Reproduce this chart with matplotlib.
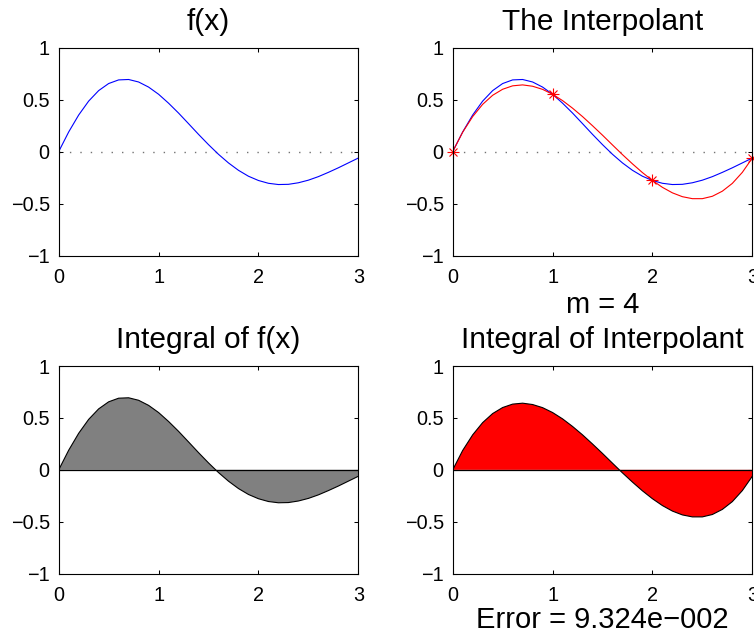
import numpy as np
import matplotlib
matplotlib.use('Agg')
import matplotlib.pyplot as plt

plt.rcParams['font.family'] = ['Liberation Sans', 'DejaVu Sans']
plt.rcParams['lines.scale_dashes'] = False

# sample grid and values
x_vals = np.round(np.arange(0, 3.01, 0.1), 1)
f_vals = [0.000, 0.189, 0.352, 0.486, 0.587, 0.655, 0.690, 0.694, 0.670, 0.621,
          0.552, 0.466, 0.371, 0.269, 0.166, 0.067, -0.026, -0.109, -0.180, -0.237,
          -0.278, -0.305, -0.317, -0.315, -0.300, -0.275, -0.241, -0.200, -0.156,
          -0.109, -0.062]
p_vals = [0.000, 0.187, 0.337, 0.455, 0.542, 0.600, 0.633, 0.642, 0.629, 0.599,
          0.552, 0.491, 0.418, 0.337, 0.249, 0.158, 0.064, -0.029, -0.118, -0.202,
          -0.278, -0.344, -0.397, -0.434, -0.453, -0.453, -0.430, -0.381, -0.306,
          -0.200, -0.062]
node_x = [0, 1, 2, 3]
node_y = [0.000, 0.552, -0.278, -0.062]

titles = ['f(x)', 'The Interpolant', 'Integral of f(x)', 'Integral of Interpolant']
m_label = 'm = 4'
err_label = 'Error = 9.324e\u2212002'
x_ticks = [0, 1, 2, 3]
y_ticks = [-1, -0.5, 0, 0.5, 1]
y_ticklabels = ['\u22121', '\u22120.5', '0', '0.5', '1']

fig = plt.figure(figsize=(7.54, 6.38), dpi=100)
W, H = 754, 638
def axes_px(left, top, right, bottom):
    return fig.add_axes([left / W, 1 - bottom / H, (right - left) / W, (bottom - top) / H])

ax1 = axes_px(58.7, 47.7, 358.3, 255.5)
ax2 = axes_px(452.7, 47.7, 752.3, 255.5)
ax3 = axes_px(58.7, 366.0, 358.3, 573.7)
ax4 = axes_px(452.7, 366.0, 752.3, 573.7)
axes = [ax1, ax2, ax3, ax4]

for ax, t in zip(axes, titles):
    ax.set_xlim(0, 3)
    ax.set_ylim(-1, 1)
    ax.set_xticks(x_ticks)
    ax.set_xticklabels([str(v) for v in x_ticks])
    ax.set_yticks(y_ticks)
    ax.set_yticklabels(y_ticklabels)
    ax.tick_params(direction='in', top=True, right=True, length=3, width=0.75,
                   labelsize=14.3)
    ax.tick_params(axis='x', pad=9)
    ax.tick_params(axis='y', pad=6.5)
    for s in ax.spines.values():
        s.set_linewidth(0.8)
    ax.set_title(t, fontsize=21.5, pad=13)

# f(x)
ax1.axhline(0, color='0.45', lw=1.0, linestyle=(0, (1.0, 6.5)), zorder=1)
ax1.plot(x_vals, f_vals, color='b', lw=0.8)

# interpolant
ax2.axhline(0, color='0.45', lw=1.0, linestyle=(0, (1.0, 6.5)), zorder=1)
ax2.plot(x_vals, f_vals, color='b', lw=0.8)
ax2.plot(x_vals, p_vals, color='r', lw=0.8)
ax2.plot(node_x, node_y, '+', color='r', ms=9, mew=0.8, clip_on=False)
ax2.plot(node_x, node_y, 'x', color='r', ms=6.4, mew=0.8, clip_on=False)
ax2.text(0.5, -0.276, m_label, transform=ax2.transAxes, ha='center',
         va='baseline', fontsize=21)

# integrals
ax3.fill_between(x_vals, f_vals, 0, facecolor=(0.5, 0.5, 0.5), edgecolor='none')
ax3.plot(x_vals, f_vals, color='k', lw=0.8)
ax3.axhline(0, color='k', lw=0.9)

ax4.fill_between(x_vals, p_vals, 0, facecolor='r', edgecolor='none')
ax4.plot(x_vals, p_vals, color='k', lw=0.8)
ax4.axhline(0, color='k', lw=0.9)
ax4.text(0.5, -0.262, err_label, transform=ax4.transAxes, ha='center',
         va='baseline', fontsize=21)

fig.savefig('out.png', dpi=100)
